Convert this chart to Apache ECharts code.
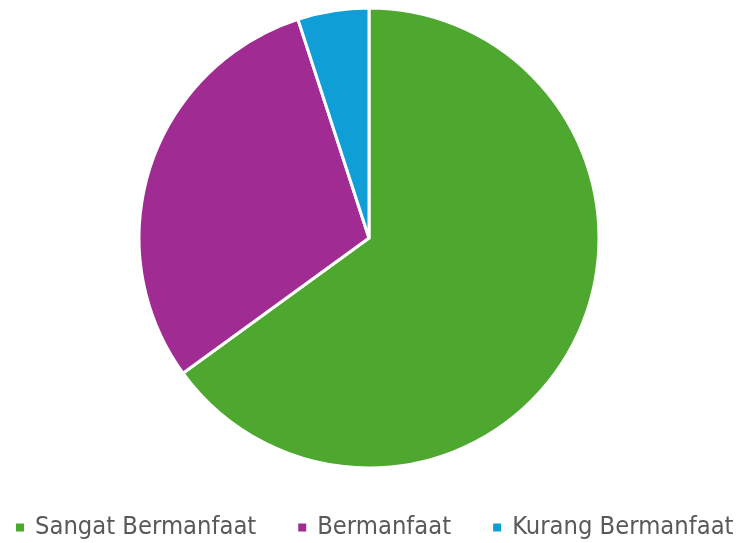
<!DOCTYPE html>
<html>
<head>
<meta charset="utf-8">
<script src="https://cdn.jsdelivr.net/npm/echarts@6/dist/echarts.min.js"></script>
<style>
html,body{margin:0;padding:0;background:#fff;}
#chart{width:739px;height:543px;}
</style>
</head>
<body>
<div id="chart"></div>
<script>
// 数据
var categories = ['Sangat Bermanfaat', 'Bermanfaat', 'Kurang Bermanfaat'];
var values = [65, 30, 5];
var colors = ['#4EA72E', '#A02B93', '#0F9ED5'];

var chart = echarts.init(document.getElementById('chart'));
var pieData = categories.map(function (name, i) {
    return {value: values[i], name: name};
});
var option = {
    animation: false,
    color: colors,
    legend: {
        bottom: 3,
        left: 14,
        padding: 0,
        icon: 'rect',
        itemWidth: 10,
        itemHeight: 10,
        itemGap: 40,
        textStyle: {
            fontFamily: '"DejaVu Sans Condensed", sans-serif',
            fontSize: 25.3,
            color: '#595959',
            padding: [0, 0, 0, 5]
        },
        data: categories
    },
    series: [
        {
            type: 'pie',
            radius: 230,
            center: [369, 238],
            startAngle: 90,
            clockwise: true,
            label: {show: false},
            labelLine: {show: false},
            itemStyle: {
                borderColor: '#fff',
                borderWidth: 3
            },
            data: pieData
        }
    ]
};
chart.setOption(option);
</script>
</body>
</html>
